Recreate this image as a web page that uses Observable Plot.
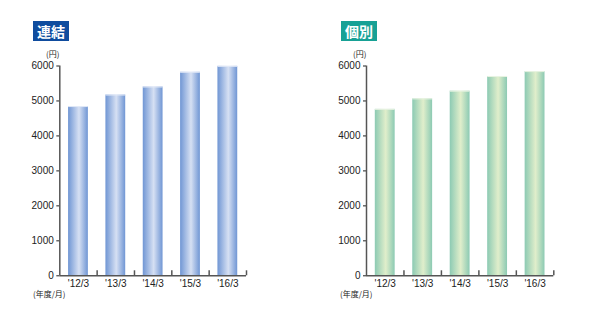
<!DOCTYPE html>
<html>
<head>
<meta charset="utf-8">
<script src="https://cdn.jsdelivr.net/npm/d3@7"></script>
<script src="https://cdn.jsdelivr.net/npm/@observablehq/plot@0.6"></script>
<style>
  html, body { margin: 0; padding: 0; background: #fff; }
  #wrap { position: relative; width: 598px; height: 319px; overflow: hidden; font-family: "Liberation Sans", Arial, sans-serif; color: #222; }
  .panel { position: absolute; top: 0; width: 299px; height: 319px; }
  .panel svg { position: absolute; left: 0; top: 0; }
  .badge { position: absolute; top: 21px; height: 20px; line-height: 20px; color: #fff; font-family: "Noto Sans CJK JP", sans-serif; font-weight: 700; font-size: 14px; text-align: center; }
  .unit, .period { position: absolute; font-family: "Noto Sans CJK JP", sans-serif; font-size: 8px; line-height: 10px; white-space: nowrap; }
</style>
</head>
<body>
<div id="wrap"></div>
<script>
// Fiscal periods (year / month)
const periods = ["'12/3", "'13/3", "'14/3", "'15/3", "'16/3"];
// Consolidated (連結), yen
const consolidated = [4840, 5170, 5400, 5820, 5990];
// Non-consolidated (個別), yen
const standalone = [4760, 5060, 5280, 5700, 5840];
const yTicks = [0, 1000, 2000, 3000, 4000, 5000, 6000];

const W = 299, H = 319;

function drawPanel({left, title, badgeColor, badgeLeft, values, edge, mid, topLine, gradId, mL, mR, unitLeft, periodLeft}) {
  const panel = document.createElement("div");
  panel.className = "panel";
  panel.style.left = left + "px";

  const mT = 65.5, mB = 43.7;
  const n = periods.length;
  const step = (W - mL - mR) / n;
  const plotH = H - mT - mB;
  const yMax = 6000;
  const tickLen = 5 * yMax / plotH; // 5px upward ticks on the category axis
  const data = periods.map((p, i) => ({period: p, value: values[i]}));
  const axisColor = "#555";

  const svg = Plot.plot({
    width: W,
    height: H,
    marginLeft: mL,
    marginRight: mR,
    marginTop: mT,
    marginBottom: mB,
    style: {fontFamily: "'Liberation Sans', Arial, sans-serif", fontSize: "10px", color: "#222", background: "transparent"},
    x: {domain: periods, paddingInner: 0.47, paddingOuter: 0.235, round: false, label: null, tickSize: 0, tickPadding: 4},
    y: {domain: [0, yMax], ticks: yTicks, label: null, tickSize: 3, tickPadding: 3, tickFormat: d => String(d)},
    marks: [
      Plot.barY(data, {x: "period", y: "value", fill: `url(#${gradId})`}),
      Plot.tickY(data, {x: "period", y: "value", stroke: topLine, strokeWidth: 1}),
      // value axis line
      Plot.ruleX([periods[0]], {x: d => d, dx: -step / 2, y1: 0, y2: yMax, stroke: axisColor, strokeWidth: 1.5}),
      // category boundary ticks
      Plot.ruleX(periods.slice(1), {x: d => d, dx: -step / 2, y1: 0, y2: tickLen, stroke: axisColor, strokeWidth: 1.5}),
      Plot.ruleX([periods[n - 1]], {x: d => d, dx: step / 2, y1: 0, y2: tickLen, stroke: axisColor, strokeWidth: 1.5}),
      Plot.ruleY([0], {stroke: axisColor, strokeWidth: 1.5})
    ]
  });

  const defs = d3.select(svg).insert("defs", ":first-child");
  const g = defs.append("linearGradient").attr("id", gradId)
    .attr("x1", "0").attr("y1", "0").attr("x2", "1").attr("y2", "0");
  g.append("stop").attr("offset", "0%").attr("stop-color", edge);
  g.append("stop").attr("offset", "55%").attr("stop-color", mid);
  g.append("stop").attr("offset", "100%").attr("stop-color", edge);

  panel.appendChild(svg);

  const badge = document.createElement("div");
  badge.className = "badge";
  badge.textContent = title;
  badge.style.background = badgeColor;
  badge.style.left = badgeLeft + "px";
  badge.style.width = "36px";
  panel.appendChild(badge);

  const unit = document.createElement("div");
  unit.className = "unit";
  unit.textContent = "(円)";
  unit.style.left = unitLeft + "px";
  unit.style.top = "49px";
  panel.appendChild(unit);

  const period = document.createElement("div");
  period.className = "period";
  period.textContent = "(年度/月)";
  period.style.left = periodLeft + "px";
  period.style.top = "289px";
  panel.appendChild(period);

  document.getElementById("wrap").appendChild(panel);
}

drawPanel({
  left: 0, title: "連結", badgeColor: "#0f4c9e", badgeLeft: 33,
  values: consolidated, edge: "#7096d4", mid: "#d6e0f3", topLine: "#e2e9f7", gradId: "gradConsolidated",
  mL: 59.3, mR: 53, unitLeft: 46, periodLeft: 33
});
drawPanel({
  left: 299, title: "個別", badgeColor: "#17a195", badgeLeft: 42,
  values: standalone, edge: "#8ccab3", mid: "#e0eecb", topLine: "#e8f3e2", gradId: "gradStandalone",
  mL: 67, mR: 44.7, unitLeft: 54, periodLeft: 41
});
</script>
</body>
</html>
